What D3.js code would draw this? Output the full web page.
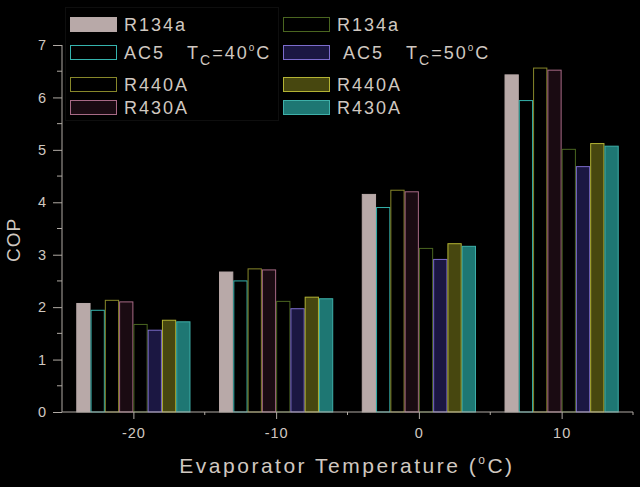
<!DOCTYPE html>
<html>
<head>
<meta charset="utf-8">
<script src="https://cdn.jsdelivr.net/npm/d3@7"></script>
<style>
  html, body { margin: 0; padding: 0; background: #000; }
  svg { display: block; }
  text { font-family: "Liberation Sans", Arial, sans-serif; fill: #d0c8c0; }
</style>
</head>
<body>
<script>

// evaporator temperatures (groups)
var temps = [-20, -10, 0, 10]

// COP values, Tc = 40 C
var r134a40 = [2.07, 2.67, 4.15, 6.43]
var ac5_40  = [1.94, 2.50, 3.90, 5.94]
var r440a40 = [2.13, 2.73, 4.23, 6.56]
var r430a40 = [2.10, 2.71, 4.20, 6.52]

// COP values, Tc = 50 C
var r134a50 = [1.67, 2.11, 3.12, 5.01]
var ac5_50  = [1.56, 1.97, 2.91, 4.68]
var r440a50 = [1.75, 2.19, 3.21, 5.12]
var r430a50 = [1.72, 2.16, 3.16, 5.07]

var seriesNames = ["R134a", "AC5", "R440A", "R430A", "R134a", "AC5", "R440A", "R430A"]
var seriesValues = [r134a40, ac5_40, r440a40, r430a40, r134a50, ac5_50, r440a50, r430a50]

var yTicks = [0, 1, 2, 3, 4, 5, 6, 7]
var xTicks = [-20, -10, 0, 10]

// fill / stroke per series
var fills   = ["#b8a9a8", "#000000", "#000000", "#1a0b12", "#000000", "#1b1742", "#47470f", "#1e7773"]
var strokes = ["#b8a9a8", "#35b3ad", "#87872a", "#a86a86", "#4a6520", "#7c6ccc", "#b3b334", "#3eb0a9"]

var width = 640, height = 487

var svg = d3.select("body").append("svg")
    .attr("width", width)
    .attr("height", height)

svg.append("rect")
    .attr("width", width)
    .attr("height", height)
    .attr("fill", "#000")

var x = d3.scaleLinear().domain([-25, 15]).range([62, 633])
var y = d3.scaleLinear().domain([0, 7]).range([412, 45])

var barW = x(1) - x(0)

// bars
seriesValues.forEach(function(vals, s) {
  svg.append("g").selectAll("rect")
    .data(vals)
    .enter().append("rect")
      .attr("x", function(d, i) { return x(temps[i] - 4 + s) + 0.5 })
      .attr("y", function(d) { return y(d) })
      .attr("width", barW - 1)
      .attr("height", function(d) { return y(0) - y(d) })
      .attr("fill", fills[s])
      .attr("stroke", strokes[s])
      .attr("stroke-width", 1)
})

var plain = function(d) { return String(d) }

// y axis
var yAxis = svg.append("g")
    .attr("transform", "translate(62,0)")
    .call(d3.axisLeft(y).tickValues(yTicks).tickSize(9).tickPadding(6).tickFormat(plain))
yAxis.selectAll(".tick line").attr("stroke", "#b0aaa4")
yAxis.select(".domain").attr("stroke", "#b0aaa4").attr("d", "M0," + y(7) + "V" + y(0))
yAxis.selectAll(".tick text")
    .style("font-family", "Liberation Sans, Arial, sans-serif")
    .style("font-size", "14.5px")
    .style("letter-spacing", "1px")
    .attr("fill", "#c6beb6")

// y minor ticks
svg.append("g").selectAll("line")
    .data(d3.range(0.5, 7, 1))
    .enter().append("line")
      .attr("x1", 57).attr("x2", 62)
      .attr("y1", function(d) { return y(d) })
      .attr("y2", function(d) { return y(d) })
      .attr("stroke", "#b0aaa4")

// x axis
var xAxis = svg.append("g")
    .attr("transform", "translate(0,412)")
    .call(d3.axisBottom(x).tickValues(xTicks).tickSize(7).tickPadding(9).tickFormat(plain))
xAxis.selectAll(".tick line").attr("stroke", "#b0aaa4")
xAxis.select(".domain").attr("stroke", "#b0aaa4").attr("d", "M62,0H633")
xAxis.selectAll(".tick text")
    .style("font-family", "Liberation Sans, Arial, sans-serif")
    .style("font-size", "14.5px")
    .style("letter-spacing", "1px")
    .attr("fill", "#c6beb6")

// x minor ticks
svg.append("g").selectAll("line")
    .data([-15, -5, 5, 15])
    .enter().append("line")
      .attr("x1", function(d) { return x(d) })
      .attr("x2", function(d) { return x(d) })
      .attr("y1", 412).attr("y2", 415)
      .attr("stroke", "#b0aaa4")

// axis titles
svg.append("text")
    .attr("transform", "translate(20,240) rotate(-90)")
    .attr("text-anchor", "middle")
    .style("font-size", "19px")
    .style("letter-spacing", "1px")
    .text("COP")

var xt = svg.append("text")
    .attr("x", 347)
    .attr("y", 473)
    .attr("text-anchor", "middle")
    .style("font-size", "21px")
    .style("letter-spacing", "2.5px")
xt.append("tspan").text("Evaporator Temperature (")
xt.append("tspan").attr("dy", -9).style("font-size", "12px").text("o")
xt.append("tspan").attr("dy", 9).text("C)")

// legend frame (faint)
svg.append("rect")
    .attr("x", 65.5).attr("y", 7.5)
    .attr("width", 213).attr("height", 113)
    .attr("fill", "none")
    .attr("stroke", "#0e0e0e")

// legend
var rowTop = [17, 45, 77, 100]
var colX = [70, 283]
var legend = svg.append("g")
seriesNames.forEach(function(name, s) {
  var col = s < 4 ? 0 : 1
  var row = s % 4
  var g = legend.append("g")
  g.append("rect")
    .attr("x", colX[col] + 0.5)
    .attr("y", rowTop[row] + 0.5)
    .attr("width", 46)
    .attr("height", 14)
    .attr("fill", fills[s])
    .attr("stroke", strokes[s])
  var t = g.append("text")
    .attr("x", colX[col] + 54 + (row == 1 && col == 1 ? 6 : 0))
    .attr("y", rowTop[row] + 14)
    .style("font-size", "18px")
    .style("letter-spacing", "2px")
  t.append("tspan").text(name)
  if (row == 1) {
    var tc = col == 0 ? "40" : "50"
    t.append("tspan").attr("dx", 22).text("T")
    t.append("tspan").attr("dy", 6).style("font-size", "14px").text("C")
    t.append("tspan").attr("dy", -6).text("=" + tc)
    t.append("tspan").attr("dy", -8).style("font-size", "10px").text("o")
    t.append("tspan").attr("dy", 8).text("C")
  }
})

</script>
</body>
</html>
